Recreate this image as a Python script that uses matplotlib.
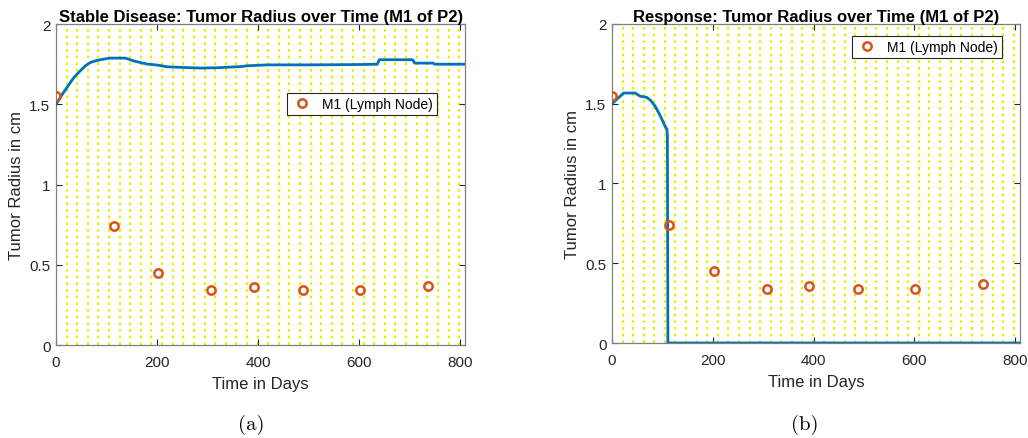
import matplotlib
matplotlib.use("Agg")
import matplotlib.pyplot as plt
import numpy as np

# ---- data ----
obs_days = [0, 114, 202, 307, 392, 489, 602, 737]
obs_radius = [1.55, 0.74, 0.45, 0.34, 0.36, 0.34, 0.34, 0.37]

sim_a_days = [0, 12, 24, 36, 48, 58, 68, 78, 88, 98, 107, 137, 145, 153, 165, 180, 200,
              220, 250, 286, 320, 350, 365, 378, 418, 500, 560, 600, 636, 640, 706, 710,
              746, 750, 810]
sim_a_radius = [1.50, 1.56, 1.616, 1.67, 1.709, 1.74, 1.761, 1.771, 1.778, 1.784, 1.788,
                1.788, 1.78, 1.771, 1.762, 1.751, 1.745, 1.734, 1.73, 1.726, 1.728,
                1.733, 1.735, 1.74, 1.746, 1.746, 1.747, 1.748, 1.75, 1.778, 1.778,
                1.757, 1.757, 1.75, 1.75]

sim_b_days = [0, 12, 23, 46, 56, 69, 77, 85, 95, 105, 109, 110, 111, 810]
sim_b_radius = [1.50, 1.535, 1.567, 1.567, 1.547, 1.54, 1.52, 1.488, 1.43, 1.362, 1.34,
                1.30, 0.0, 0.0]

cycle_days = list(range(0, 811, 21))

titles = ["Stable Disease: Tumor Radius over Time (M1 of P2)",
          "Response: Tumor Radius over Time (M1 of P2)"]
captions = ["(a)", "(b)"]
legend_label = "M1 (Lymph Node)"
x_ticks = [0, 200, 400, 600, 800]
y_ticks = [0, 0.5, 1, 1.5, 2]
y_tick_labels = ["0", "0.5", "1", "1.5", "2"]

plt.rcParams['font.family'] = ['Liberation Sans', 'DejaVu Sans']

fig = plt.figure(figsize=(10.28, 4.39), dpi=100)
ax_a = fig.add_axes([0.0545, 0.2118, 0.398, 0.731])
ax_b = fig.add_axes([0.5953, 0.2164, 0.397, 0.7267])

axcol = '#262626'
blue = '#0072BD'
orange = '#D95319'
yellow = '#e6f000'

sims = [(sim_a_days, sim_a_radius), (sim_b_days, sim_b_radius)]
legend_pos = [(0.565, 0.785), (0.588, 0.962)]

for i, ax in enumerate([ax_a, ax_b]):
    for d in cycle_days:
        ax.axvline(d, color=yellow, linestyle=(0, (1.2, 1.8)), linewidth=1.6, zorder=1)
    ax.plot(sims[i][0], sims[i][1], color=blue, linewidth=2, zorder=3)
    ax.plot(obs_days, obs_radius, linestyle='none', marker='o', markersize=6,
            markerfacecolor='none', markeredgecolor=orange, markeredgewidth=1.8,
            label=legend_label, zorder=4)
    ax.set_xlim(0, 810)
    ax.set_ylim(0, 2)
    ax.set_xticks(x_ticks)
    ax.set_yticks(y_ticks)
    ax.set_yticklabels(y_tick_labels)
    ax.tick_params(direction='in', top=True, right=True, length=4, width=0.8,
                   colors=axcol, labelsize=11, pad=4)
    ax.tick_params(axis='x', pad=7)
    for s in ax.spines.values():
        s.set_color('#808080')
        s.set_linewidth(0.9)
    ax.set_xlabel("Time in Days", fontsize=12, color=axcol, labelpad=5)
    ax.set_ylabel("Tumor Radius in cm", fontsize=12, color=axcol, labelpad=4)
    ax.set_title(titles[i], fontsize=12, fontweight='bold', color='black', pad=2)
    leg = ax.legend(loc='upper left', bbox_to_anchor=legend_pos[i], fontsize=10,
                    fancybox=False, framealpha=1, edgecolor=axcol, borderpad=0.3,
                    handletextpad=0.6, handlelength=1.6, borderaxespad=0)
    leg.get_frame().set_linewidth(0.8)

fig.text(0.2445, 0.01, captions[0], fontsize=15, fontname='cmr10', ha='center', va='bottom')
fig.text(0.783, 0.01, captions[1], fontsize=15, fontname='cmr10', ha='center', va='bottom')

fig.savefig("out.png", dpi=100)
